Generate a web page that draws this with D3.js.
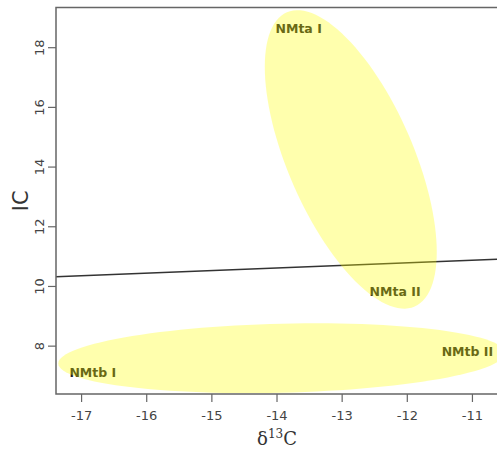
<!DOCTYPE html>
<html>
<head>
<meta charset="utf-8">
<script src="https://cdn.jsdelivr.net/npm/d3@7"></script>
<style>
  html, body { margin: 0; padding: 0; background: #fff; }
  svg { display: block; }
</style>
</head>
<body>
<div id="chart"></div>
<script>
// Axis ticks
const xTicks = [-17, -16, -15, -14, -13, -12, -11];
const yTicks = [8, 10, 12, 14, 16, 18];

// Group ellipses: centre, half-extent along each axis, and correlation
const groups = ["NMta", "NMtb"];
const groupCx = [-12.86, -13.92];
const groupCy = [14.24, 7.58];
const groupSx = [1.32, 3.43];
const groupSy = [5.0, 1.17];
const groupRho = [-0.62, 0.15];

// Sub-group labels and their positions in data units
const labelText = ["NMta I", "NMta II", "NMtb I", "NMtb II"];
const labelX = [-13.66, -12.18, -16.82, -11.07];
const labelY = [18.61, 9.81, 7.11, 7.81];

// Fitted line IC = a + b * d13C
const fitA = 11.82;
const fitB = 0.087;

const W = 497, H = 449;
const margin = { left: 56, right: -1, top: 7.5, bottom: 55 };

const svg = d3.select("#chart").append("svg")
  .attr("width", W).attr("height", H);

const x = d3.scaleLinear().domain([-17.385, -10.6])
  .range([margin.left, W - margin.right]);
const y = d3.scaleLinear().domain([6.38, 19.33])
  .range([H - margin.bottom, margin.top]);

const [x0, x1] = x.range();
const [yb, yt] = y.range();

svg.append("defs").append("clipPath").attr("id", "plotclip")
  .append("rect").attr("x", x0).attr("y", yt)
  .attr("width", x1 - x0).attr("height", yb - yt);

const plot = svg.append("g").attr("clip-path", "url(#plotclip)");

// Fitted line
const xd = x.domain();
plot.append("line")
  .attr("x1", x(xd[0])).attr("y1", y(fitA + fitB * xd[0]))
  .attr("x2", x(xd[1])).attr("y2", y(fitA + fitB * xd[1]))
  .attr("stroke", "#333").attr("stroke-width", 1.4);

// Labels (drawn under the translucent ellipses)
const sans = "'DejaVu Sans', Verdana, sans-serif";
plot.selectAll("text.lab").data(labelText).join("text")
  .attr("class", "lab")
  .attr("x", (d, i) => x(labelX[i]))
  .attr("y", (d, i) => y(labelY[i]))
  .attr("dy", "0.36em")
  .attr("text-anchor", "middle")
  .attr("font-family", sans)
  .attr("font-weight", "bold")
  .attr("font-size", 12.5)
  .attr("fill", "#222")
  .text(d => d);

// Ellipses from centre, spread and correlation
const ellipsePath = (i) => {
  const n = 120, pts = [];
  const r = groupRho[i], q = Math.sqrt(1 - r * r);
  for (let k = 0; k <= n; k++) {
    const t = 2 * Math.PI * k / n;
    pts.push([
      x(groupCx[i] + groupSx[i] * Math.cos(t)),
      y(groupCy[i] + groupSy[i] * (r * Math.cos(t) + q * Math.sin(t)))
    ]);
  }
  return d3.line()(pts) + "Z";
};
plot.selectAll("path.ell").data(groups).join("path")
  .attr("class", "ell")
  .attr("d", (d, i) => ellipsePath(i))
  .attr("fill", "#ffff00")
  .attr("fill-opacity", 0.32)
  .attr("stroke", "none");

// Axes
const axisColor = "#666";
const xAxis = svg.append("g").attr("transform", `translate(0,${yb})`)
  .call(d3.axisBottom(x).tickValues(xTicks).tickSize(8).tickPadding(6)
    .tickFormat(d => d3.format("d")(d).replace("−", "-")));
const yAxis = svg.append("g").attr("transform", `translate(${x0},0)`)
  .call(d3.axisLeft(y).tickValues(yTicks).tickSize(8).tickPadding(6));
[xAxis, yAxis].forEach(g => {
  g.select(".domain").remove();
  g.selectAll(".tick line").attr("stroke", axisColor).attr("stroke-width", 1.2);
  g.selectAll(".tick text").attr("fill", "#444")
    .attr("font-family", sans).attr("font-size", 13);
});
xAxis.selectAll(".tick text").attr("dy", "0.95em");
yAxis.selectAll(".tick text")
  .attr("text-anchor", "middle")
  .attr("x", null).attr("dy", null)
  .attr("transform", "translate(-17,0) rotate(-90)")
  .attr("y", 0).attr("dy", "0.36em");

// Frame: left, top and bottom sides
svg.append("path")
  .attr("d", `M${x1},${yt}H${x0}V${yb}H${x1}`)
  .attr("fill", "none").attr("stroke", axisColor).attr("stroke-width", 1.5);

// Axis titles
const xt = svg.append("text")
  .attr("x", (x0 + x1) / 2).attr("y", 445)
  .attr("text-anchor", "middle")
  .attr("font-family", "'DejaVu Serif', 'Liberation Serif', serif")
  .attr("font-size", 18).attr("fill", "#333");
xt.append("tspan").text("δ");
xt.append("tspan").attr("font-size", 12).attr("dy", -7).text("13");
xt.append("tspan").attr("dy", 7).text("C");

svg.append("text")
  .attr("transform", `translate(28,${(yt + yb) / 2}) rotate(-90)`)
  .attr("text-anchor", "middle")
  .attr("font-family", sans)
  .attr("font-size", 21).attr("fill", "#333")
  .text("IC");
</script>
</body>
</html>
